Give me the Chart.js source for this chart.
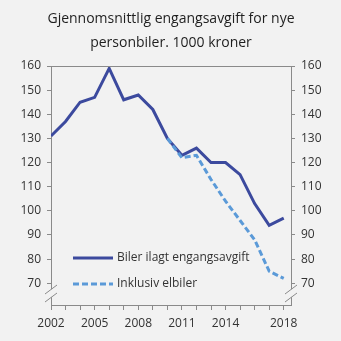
<!DOCTYPE html>
<html>
<head>
<meta charset="utf-8">
<script src="https://cdn.jsdelivr.net/npm/chart.js@4"></script>
<style>
  html, body { margin: 0; padding: 0; background: #f2f2f2; }
  #wrap { position: relative; width: 341px; height: 341px; }
</style>
</head>
<body>
<div id="wrap"><canvas id="chart" width="341" height="341"></canvas></div>
<script>
  const titleLines = ["Gjennomsnittlig engangsavgift for nye", "personbiler. 1000 kroner"];
  const years = [2002, 2003, 2004, 2005, 2006, 2007, 2008, 2009, 2010, 2011, 2012, 2013, 2014, 2015, 2016, 2017, 2018];
  const yearLabels = [2002, 2005, 2008, 2011, 2014, 2018];
  const yTicks = [70, 80, 90, 100, 110, 120, 130, 140, 150, 160];
  const withTax = [131, 137, 145, 147, 159, 146, 148, 142, 130, 123, 126, 120, 120, 115, 103, 94, 97];
  const inclEl = [null, null, null, null, null, null, null, null, 130, 122, 123, 113, 104, 96, 88, 75, 72];
  const seriesNames = ["Biler ilagt engangsavgift", "Inklusiv elbiler"];

  const DARK = "#3c4a9e";
  const LIGHT = "#5b9ad8";
  const AXIS = "#8a8a8a";
  const BG = "#f2f2f2";
  const FONT = "'Open Sans', sans-serif";

  function points(values) {
    return years.map((x, i) => ({ x, y: values[i] }));
  }

  function fixedTicks(list) {
    return (scale) => { scale.ticks = list.map((value) => ({ value })); };
  }

  // title, legend, top border and axis-break marks
  const decor = {
    id: "decor",
    beforeDraw(chart) {
      const ctx = chart.ctx;
      ctx.save();
      ctx.fillStyle = BG;
      ctx.fillRect(0, 0, chart.width, chart.height);
      ctx.restore();
    },
    afterDraw(chart) {
      const ctx = chart.ctx;
      const a = chart.chartArea;
      ctx.save();
      ctx.fillStyle = "#1e1e1e";
      ctx.font = "14px " + FONT;
      ctx.textAlign = "center";
      ctx.textBaseline = "middle";
      ctx.fillText(titleLines[0], 171, 19.5);
      ctx.fillText(titleLines[1], 171, 43);

      ctx.strokeStyle = AXIS;
      ctx.lineWidth = 1;
      ctx.beginPath();
      ctx.moveTo(a.left, a.top + 0.5);
      ctx.lineTo(a.right, a.top + 0.5);
      ctx.stroke();

      [a.left, a.right].forEach((x) => {
        ctx.fillStyle = BG;
        ctx.beginPath();
        ctx.moveTo(x - 6, 294);
        ctx.lineTo(x + 6, 285);
        ctx.lineTo(x + 6, 293);
        ctx.lineTo(x - 6, 302);
        ctx.closePath();
        ctx.fill();
        ctx.strokeStyle = AXIS;
        ctx.beginPath();
        ctx.moveTo(x - 6, 294);
        ctx.lineTo(x + 6, 285);
        ctx.moveTo(x - 6, 302);
        ctx.lineTo(x + 6, 293);
        ctx.stroke();
      });

      ctx.font = "12px " + FONT;
      ctx.textAlign = "left";
      ctx.fillStyle = "#333";
      ctx.lineWidth = 3;
      ctx.strokeStyle = DARK;
      ctx.beginPath();
      ctx.moveTo(73, 258);
      ctx.lineTo(113, 258);
      ctx.stroke();
      ctx.fillText(seriesNames[0], 117, 258);
      ctx.strokeStyle = LIGHT;
      ctx.setLineDash([6, 3]);
      ctx.beginPath();
      ctx.moveTo(73, 284);
      ctx.lineTo(113, 284);
      ctx.stroke();
      ctx.setLineDash([]);
      ctx.fillText(seriesNames[1], 117, 284);
      ctx.restore();
    },
  };

  const tickFont = { family: FONT, size: 12 };

  new Chart(document.getElementById("chart"), {
    type: "line",
    data: {
      datasets: [
        {
          label: seriesNames[1],
          data: points(inclEl),
          borderColor: LIGHT,
          borderWidth: 3,
          borderDash: [6, 3],
          pointRadius: 0,
          tension: 0,
          order: 0,
        },
        {
          label: seriesNames[0],
          data: points(withTax),
          borderColor: DARK,
          borderWidth: 3,
          pointRadius: 0,
          tension: 0,
          order: 1,
        },
      ],
    },
    options: {
      responsive: false,
      animation: false,
      layout: { padding: { top: 66 } },
      plugins: { legend: { display: false }, tooltip: { enabled: false } },
      scales: {
        x: {
          type: "linear",
          min: 2002,
          max: 2018.5,
          afterBuildTicks: fixedTicks(years),
          afterFit: (s) => { s.height = 36; },
          grid: { drawOnChartArea: false, color: AXIS, tickLength: 5 },
          border: { color: AXIS },
          ticks: {
            color: "#333",
            font: tickFont,
            padding: 6,
            maxRotation: 0,
            autoSkip: false,
            callback: (v) => (yearLabels.includes(v) ? String(v) : ""),
          },
        },
        y: {
          position: "left",
          min: 61,
          max: 160,
          afterBuildTicks: fixedTicks(yTicks),
          afterFit: (s) => { s.width = 51; },
          grid: { drawOnChartArea: false, color: AXIS, tickLength: 4 },
          border: { color: AXIS },
          ticks: { color: "#333", font: tickFont, padding: 6 },
        },
        y2: {
          position: "right",
          min: 61,
          max: 160,
          afterBuildTicks: fixedTicks(yTicks),
          afterFit: (s) => { s.width = 50; },
          grid: { drawOnChartArea: false, color: AXIS, tickLength: 4 },
          border: { color: AXIS },
          ticks: { color: "#333", font: tickFont, padding: 6 },
        },
      },
    },
    plugins: [decor],
  });
</script>
</body>
</html>
